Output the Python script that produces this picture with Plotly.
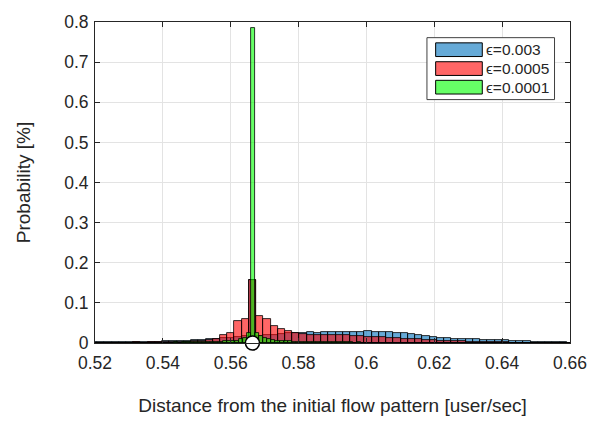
import numpy as np
import plotly.graph_objects as go

# ---------------- data ----------------
x_tick_vals = [0.52, 0.54, 0.56, 0.58, 0.60, 0.62, 0.64, 0.66]
x_tick_text = ["0.52", "0.54", "0.56", "0.58", "0.6", "0.62", "0.64", "0.66"]
y_tick_vals = [0, 0.1, 0.2, 0.3, 0.4, 0.5, 0.6, 0.7, 0.8]
y_tick_text = ["0", "0.1", "0.2", "0.3", "0.4", "0.5", "0.6", "0.7", "0.8"]

series_names = ["\u03f5=0.003", "\u03f5=0.0005", "\u03f5=0.0001"]

# histogram bins (left edge of first bin and bin width)
wide_bin_start = 0.51849
wide_bin_width = 0.00213
narrow_bin_start = 0.51798
narrow_bin_width = 0.0012

blue_prob = [
    0.002, 0.002, 0.002, 0.002, 0.003, 0.002, 0.003, 0.003, 0.003, 0.003,
    0.004, 0.005, 0.006, 0.006, 0.007, 0.008, 0.009, 0.010, 0.012, 0.013,
    0.015, 0.017, 0.157, 0.018, 0.019, 0.020, 0.022, 0.024, 0.025, 0.024,
    0.028, 0.025, 0.028, 0.028, 0.028, 0.027, 0.027, 0.027, 0.031, 0.028,
    0.028, 0.027, 0.025, 0.024, 0.023, 0.020, 0.018, 0.016, 0.013, 0.012,
    0.011, 0.011, 0.011, 0.010, 0.008, 0.008, 0.0065, 0.0065, 0.006, 0.005,
    0.004, 0.003, 0.003, 0.0025, 0.002, 0.002, 0.001,
]

red_prob = [
    0.001, 0.001, 0.001, 0.001, 0.001, 0.001, 0.002, 0.001, 0.002, 0.002,
    0.002, 0.002, 0.003, 0.003, 0.004, 0.005, 0.007, 0.011, 0.019, 0.026,
    0.055, 0.059, 0.157, 0.067, 0.061, 0.042, 0.034, 0.029, 0.025, 0.022,
    0.021, 0.020, 0.020, 0.020, 0.019, 0.019, 0.018, 0.017, 0.016, 0.015,
    0.014, 0.013, 0.012, 0.011, 0.010, 0.009, 0.008, 0.007, 0.006, 0.005,
    0.004, 0.004, 0.003, 0.003, 0.002, 0.002, 0.002, 0.002, 0.001, 0.001,
    0.001, 0.001, 0.001, 0.001, 0.001, 0.0005, 0.0005,
]

green_prob = [
    0.001, 0.001, 0.001, 0.001, 0.001, 0.001, 0.001, 0.001, 0.001, 0.001,
    0.001, 0.001, 0.001, 0.001, 0.001, 0.001, 0.001, 0.001, 0.001, 0.001,
    0.001, 0.002, 0.001, 0.002, 0.002, 0.002, 0.002, 0.002, 0.002, 0.002,
    0.003, 0.003, 0.003, 0.004, 0.004, 0.005, 0.006, 0.009, 0.013, 0.024,
    0.785, 0.024, 0.017, 0.013, 0.010, 0.007, 0.006, 0.005, 0.004, 0.004,
    0.003, 0.003, 0.003, 0.003, 0.002, 0.002, 0.002, 0.002, 0.002, 0.002,
    0.002, 0.002, 0.002, 0.002, 0.002, 0.001, 0.002, 0.001, 0.001, 0.001,
    0.001, 0.001, 0.001, 0.001, 0.001, 0.001, 0.001, 0.001, 0.001, 0.001,
    0.001, 0.001, 0.001, 0.001, 0.001, 0.001, 0.001, 0.001, 0.001, 0.001,
    0.001, 0.001, 0.001, 0.001, 0.001, 0.001, 0.001, 0.001, 0.001, 0.001,
    0.001, 0.001, 0.001, 0.001, 0.001, 0.001, 0.001, 0.001, 0.0005, 0.0005,
    0.0005, 0.0005, 0.0005, 0.0005, 0.0005, 0.0005, 0.0005, 0.0005, 0.0005,
]

initial_point_x = [0.5664]
initial_point_y = [0.0]

# ---------------- styles ----------------
FONT = "Liberation Sans, Arial, Helvetica, sans-serif"
AX = "#262626"
face_colors = ["rgba(0,114,189,0.6)", "rgba(255,0,0,0.6)", "rgba(0,255,0,0.6)"]
legend_colors = ["rgb(102,170,215)", "rgb(255,102,102)", "rgb(102,255,102)"]
TICK_SIZE = 17.5
LABEL_SIZE = 19
LEGEND_SIZE = 15.5


def centers(start, width, n):
    return start + width * (np.arange(n) + 0.5)


fig = go.Figure()
series = [
    (blue_prob, wide_bin_start, wide_bin_width),
    (red_prob, wide_bin_start, wide_bin_width),
    (green_prob, narrow_bin_start, narrow_bin_width),
]
for (vals, st, w), name, col in zip(series, series_names, face_colors):
    fig.add_trace(go.Bar(
        x=centers(st, w, len(vals)), y=vals, width=w, name=name,
        marker=dict(color=col, line=dict(color="black", width=0.8)),
        showlegend=False,
    ))

fig.add_trace(go.Scatter(
    x=initial_point_x, y=initial_point_y, mode="markers",
    marker=dict(symbol="circle", size=14, color="white",
                line=dict(color="black", width=1.5)),
    cliponaxis=False, showlegend=False,
))

# ---------------- legend (drawn manually, MATLAB style) ----------------
W, H = 601, 424
L, R, T, B = 95, 30.5, 14.7, 81.3
pw, ph = W - L - R, H - T - B


def px(x):
    return (x - L) / pw


def py(y):
    return (H - B - y) / ph


shapes = [dict(type="rect", xref="paper", yref="paper",
               x0=px(427.3), x1=px(555), y0=py(94), y1=py(30.7),
               fillcolor="white", line=dict(color="#404040", width=1), layer="above")]
annotations = []
row_tops = [36, 55.3, 74.3]
for top, name, col in zip(row_tops, series_names, legend_colors):
    shapes.append(dict(type="rect", xref="paper", yref="paper",
                       x0=px(436), x1=px(482.7), y0=py(top + 14), y1=py(top),
                       fillcolor=col, line=dict(color="black", width=1), layer="above"))
    annotations.append(dict(xref="paper", yref="paper", x=px(484), y=py(top + 7),
                            text=name, showarrow=False, xanchor="left", yanchor="middle",
                            font=dict(family=FONT, size=LEGEND_SIZE, color=AX)))

fig.update_layout(
    width=W, height=H,
    margin=dict(l=L, r=R, t=T, b=B),
    paper_bgcolor="white", plot_bgcolor="white",
    barmode="overlay", bargap=0,
    shapes=shapes, annotations=annotations,
    font=dict(family=FONT, size=TICK_SIZE, color=AX),
)
fig.update_xaxes(
    range=[0.52, 0.66], tickvals=x_tick_vals, ticktext=x_tick_text,
    showline=True, linecolor=AX, linewidth=1, mirror="ticks",
    ticks="inside", ticklen=5, tickcolor=AX, ticklabelstandoff=4,
    showgrid=True, gridcolor="#E3E3E3", gridwidth=1, zeroline=False,
    tickfont=dict(size=TICK_SIZE, color=AX),
    title=dict(text="Distance from the initial flow pattern [user/sec]",
               font=dict(size=LABEL_SIZE, color=AX), standoff=26),
)
fig.update_yaxes(
    range=[0, 0.8], tickvals=y_tick_vals, ticktext=y_tick_text,
    showline=True, linecolor=AX, linewidth=1, mirror="ticks",
    ticks="inside", ticklen=5, tickcolor=AX, ticklabelstandoff=2,
    showgrid=True, gridcolor="#E3E3E3", gridwidth=1, zeroline=False,
    tickfont=dict(size=TICK_SIZE, color=AX),
    title=dict(text="Probability [%]", font=dict(size=LABEL_SIZE, color=AX), standoff=28),
)

fig.write_html("out.html")
